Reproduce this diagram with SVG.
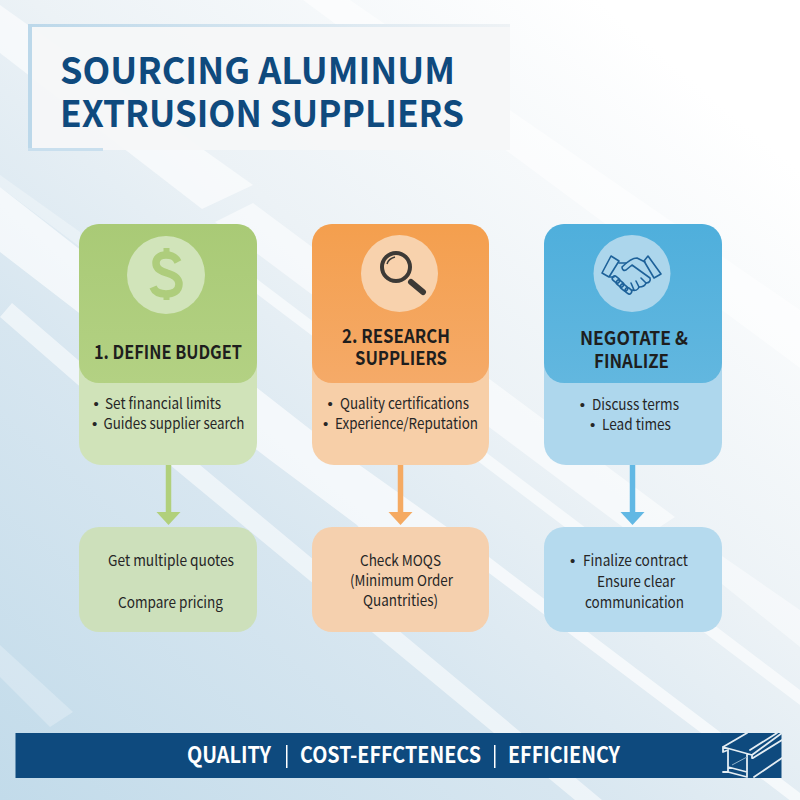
<svg xmlns="http://www.w3.org/2000/svg" width="800" height="800" viewBox="0 0 800 800">
<defs>
<linearGradient id="bg" x1="0" y1="1" x2="0.85" y2="0"><stop offset="0" stop-color="#c2dbea"/><stop offset="0.35" stop-color="#d7e6f0"/><stop offset="0.6" stop-color="#ecf2f6"/><stop offset="0.95" stop-color="#ffffff"/></linearGradient>
<linearGradient id="edge" x1="0" y1="0" x2="1" y2="0"><stop offset="0" stop-color="#bcd8ea"/><stop offset="1" stop-color="#eef2f5"/></linearGradient>
<linearGradient id="hgG" x1="0" y1="0" x2="0" y2="1"><stop offset="0" stop-color="#a9ca76"/><stop offset="1" stop-color="#b3d183"/></linearGradient>
<linearGradient id="hoG" x1="0" y1="0" x2="0" y2="1"><stop offset="0" stop-color="#f49f4e"/><stop offset="1" stop-color="#f5aa68"/></linearGradient>
<linearGradient id="hbG" x1="0" y1="0" x2="0" y2="1"><stop offset="0" stop-color="#4fafdc"/><stop offset="1" stop-color="#62b7df"/></linearGradient>
<marker id="hg" viewBox="0 0 24 13" refX="12" refY="0" markerUnits="userSpaceOnUse" markerWidth="24" markerHeight="13" orient="0" overflow="visible"><path d="M0 0H24L12 13Z" fill="#b1d07c"/></marker>
<marker id="ho" viewBox="0 0 24 13" refX="12" refY="0" markerUnits="userSpaceOnUse" markerWidth="24" markerHeight="13" orient="0" overflow="visible"><path d="M0 0H24L12 13Z" fill="#f5aa62"/></marker>
<marker id="hb" viewBox="0 0 24 13" refX="12" refY="0" markerUnits="userSpaceOnUse" markerWidth="24" markerHeight="13" orient="0" overflow="visible"><path d="M0 0H24L12 13Z" fill="#62b8e4"/></marker>
</defs>
<style>
text{font-family:"Noto Sans CJK SC","Noto Sans",sans-serif}
.title{font-size:37px;font-weight:700;fill:#0f4a7e}
.head{font-size:19px;font-weight:700;fill:#1e1e1e}
.body{font-size:15px;font-weight:400;fill:#262626}
.bl{font-family:"Liberation Sans",sans-serif;font-size:15px}
.foot{font-size:22px;font-weight:700;fill:#fff}
.stripe{fill:#fff}
.conn{fill:none;stroke-width:5.500}
.ic{fill:none;stroke:#1d6199;stroke-width:1.600;stroke-linejoin:round;stroke-linecap:round}
.beam{fill:none;stroke:#e4edf3;stroke-width:1.800;stroke-linejoin:round;stroke-linecap:round}
</style>
<rect id="background" width="800" height="800" fill="url(#bg)"/>
<g id="stripes">
<polygon class="stripe" opacity="0.6" points="0,5 253,185 202,209 0,53"/>
<polygon class="stripe" opacity="0.55" points="303,0 350,0 800,310 800,368"/>
<polygon class="stripe" opacity="0.3" points="0,175 80,232 80,247 0,187"/>
<polygon class="stripe" opacity="0.65" points="0,187 320,437 489,557 720,732 800,793 800,808 700,732 489,573 400,580 357,525 270,460 0,252"/>
<polygon class="stripe" opacity="0.55" points="215,222 253,203 675,517 640,540"/>
<polygon class="stripe" opacity="0.6" points="200,236 800,690 800,705 200,251"/>
<polygon class="stripe" opacity="0.45" points="680,527 800,610 800,647 680,550"/>
<polygon class="stripe" opacity="0.55" points="12,303 200,465 602,800 575,800 170,465 0,317"/>
<polygon class="stripe" opacity="0.25" points="0,645 73,712 50,727 0,677"/>
</g>
<g id="title-panel">
<rect x="28" y="24" width="482" height="126" fill="#f5f6f8" opacity="0.94"/>
<rect x="28" y="24" width="482" height="3" fill="url(#edge)"/>
<rect x="28" y="24" width="4" height="126" fill="#bcd8ea"/>
<rect x="28" y="148" width="75" height="3" fill="#c9dfee"/>
<text class="title" x="60" y="84" textLength="395" lengthAdjust="spacingAndGlyphs">SOURCING ALUMINUM</text>
<text class="title" x="60" y="127" textLength="404" lengthAdjust="spacingAndGlyphs">EXTRUSION SUPPLIERS</text>
</g>
<g id="connectors">
<line class="conn" x1="168.500" y1="464" x2="168.500" y2="512" stroke="#b1d07c" marker-end="url(#hg)"/>
<line class="conn" x1="400.500" y1="464" x2="400.500" y2="512" stroke="#f5aa62" marker-end="url(#ho)"/>
<line class="conn" x1="632.500" y1="464" x2="632.500" y2="512" stroke="#62b8e4" marker-end="url(#hb)"/>
</g>
<g id="node-budget">
<rect x="79" y="224" width="178" height="241" rx="22" fill="#d0e3b9"/>
<rect x="79" y="224" width="178" height="159" rx="20" fill="url(#hgG)"/>
<circle cx="166" cy="275" r="39" fill="#d1e4ba"/>
<path d="M178 262C175 256 171 255 166 255C159 255 156 259 156 263C156 269 161 271 167 273C174 275 179 278 179 284C179 291 173 294 166 294C160 294 155 292 153 287" fill="none" stroke="#aecd7c" stroke-width="7.500"/>
<path d="M166.500 248V256M166.500 292V300" fill="none" stroke="#aecd7c" stroke-width="6"/>
<text class="head" x="94" y="359" textLength="148" lengthAdjust="spacingAndGlyphs">1. DEFINE BUDGET</text>
<text class="body" y="409"><tspan class="bl" x="93.400">•</tspan><tspan x="105" textLength="116" lengthAdjust="spacingAndGlyphs">Set financial limits</tspan></text>
<text class="body" y="429"><tspan class="bl" x="92">•</tspan><tspan x="103.500" textLength="141" lengthAdjust="spacingAndGlyphs">Guides supplier search</tspan></text>
</g>
<g id="node-research">
<rect x="312" y="224" width="177" height="241" rx="22" fill="#f7cfa8"/>
<rect x="312" y="224" width="177" height="159" rx="20" fill="url(#hoG)"/>
<circle cx="399.500" cy="273.500" r="38.500" fill="#f8d2ad"/>
<circle cx="396" cy="267" r="14" fill="none" stroke="#3d3a36" stroke-width="4"/>
<path d="M387 264C388 260 391 258 395 257" fill="none" stroke="#3d3a36" stroke-width="1.500"/>
<path d="M411 282L423 292" fill="none" stroke="#3d3a36" stroke-width="6" stroke-linecap="round"/>
<text class="head" x="342" y="343" textLength="108" lengthAdjust="spacingAndGlyphs">2. RESEARCH</text>
<text class="head" x="355" y="365" textLength="92" lengthAdjust="spacingAndGlyphs">SUPPLIERS</text>
<text class="body" y="409"><tspan class="bl" x="327.400">•</tspan><tspan x="340" textLength="129" lengthAdjust="spacingAndGlyphs">Quality certifications</tspan></text>
<text class="body" y="429"><tspan class="bl" x="323">•</tspan><tspan x="335" textLength="143" lengthAdjust="spacingAndGlyphs">Experience/Reputation</tspan></text>
</g>
<g id="node-negotiate">
<rect x="544" y="224" width="178" height="241" rx="22" fill="#aed7ed"/>
<rect x="544" y="224" width="178" height="159" rx="20" fill="url(#hbG)"/>
<circle cx="632" cy="273.500" r="38.500" fill="#acd6ec"/>
<path class="ic" d="M611 256L619 261L609 277L602 273Z"/>
<path class="ic" d="M648 256L661 274L654 278L644 261Z"/>
<path class="ic" d="M645 262L637 258C632 258 627 262 622 267C622 270 624 271 626 270L632 265L650 278C651 281 649 283 646 283"/>
<path class="ic" d="M619 263L626 263M610 277L614 277M646 283C645 286 642 287 639 287C638 290 635 291 632 290"/>
<path class="ic" d="M641 278L646 283M636 281L639 287M631 283L634 290"/>
<rect class="ic" x="612" y="277" width="8" height="5" rx="2.400" transform="rotate(40 616 279.500)"/>
<rect class="ic" x="616" y="281" width="8" height="5" rx="2.400" transform="rotate(40 620 283.500)"/>
<rect class="ic" x="620" y="285" width="8" height="5" rx="2.400" transform="rotate(40 624 287.500)"/>
<rect class="ic" x="625" y="288" width="7" height="5" rx="2.400" transform="rotate(40 628 290.500)"/>
<text class="head" x="580" y="345" textLength="108" lengthAdjust="spacingAndGlyphs">NEGOTATE &amp;</text>
<text class="head" x="594" y="368" textLength="75" lengthAdjust="spacingAndGlyphs">FINALIZE</text>
<text class="body" y="410"><tspan class="bl" x="579.700">•</tspan><tspan x="592" textLength="87" lengthAdjust="spacingAndGlyphs">Discuss terms</tspan></text>
<text class="body" y="430"><tspan class="bl" x="590">•</tspan><tspan x="602" textLength="69" lengthAdjust="spacingAndGlyphs">Lead times</tspan></text>
</g>
<g id="node-quotes">
<rect x="79" y="527" width="178" height="105" rx="20" fill="#cde0bb"/>
<text class="body" x="108" y="566" textLength="126" lengthAdjust="spacingAndGlyphs">Get multiple quotes</text>
<text class="body" x="118" y="608" textLength="105" lengthAdjust="spacingAndGlyphs">Compare pricing</text>
</g>
<g id="node-moqs">
<rect x="312" y="527" width="177" height="105" rx="20" fill="#f5d0ae"/>
<text class="body" x="360" y="566" textLength="81" lengthAdjust="spacingAndGlyphs">Check MOQS</text>
<text class="body" x="350" y="586" textLength="103" lengthAdjust="spacingAndGlyphs">(Minimum Order</text>
<text class="body" x="363" y="606" textLength="75" lengthAdjust="spacingAndGlyphs">Quantrities)</text>
</g>
<g id="node-contract">
<rect x="544" y="527" width="178" height="105" rx="20" fill="#b5daee"/>
<text class="body" y="566"><tspan class="bl" x="570">•</tspan><tspan x="583" textLength="105" lengthAdjust="spacingAndGlyphs">Finalize contract</tspan></text>
<text class="body" x="597" y="587" textLength="78" lengthAdjust="spacingAndGlyphs">Ensure clear</text>
<text class="body" x="585" y="608" textLength="99" lengthAdjust="spacingAndGlyphs">communication</text>
</g>
<g id="footer">
<rect x="15.500" y="733" width="766" height="45" fill="#0e4a7e"/>
<text class="foot" x="187" y="763" textLength="84" lengthAdjust="spacingAndGlyphs">QUALITY</text>
<rect x="286" y="745" width="1.500" height="23" fill="#fff"/>
<text class="foot" x="300" y="763" textLength="181" lengthAdjust="spacingAndGlyphs">COST-EFFCTENECS</text>
<rect x="494" y="745" width="1.500" height="23" fill="#fff"/>
<text class="foot" x="508" y="763" textLength="112" lengthAdjust="spacingAndGlyphs">EFFICIENCY</text>
<path class="beam" d="M723 747L747 733M723 747L752 755V758M723 747V752L728 750M728 750V772H723M747 755V777M728 767L747 772M728 772L747 777M752 755L782 733M753 758L782 740M754 777L782 758M750 750L777 733"/>
<path d="M732 765L747 757" fill="none" stroke="#8fb0c8" stroke-width="1"/>
</g>
</svg>
